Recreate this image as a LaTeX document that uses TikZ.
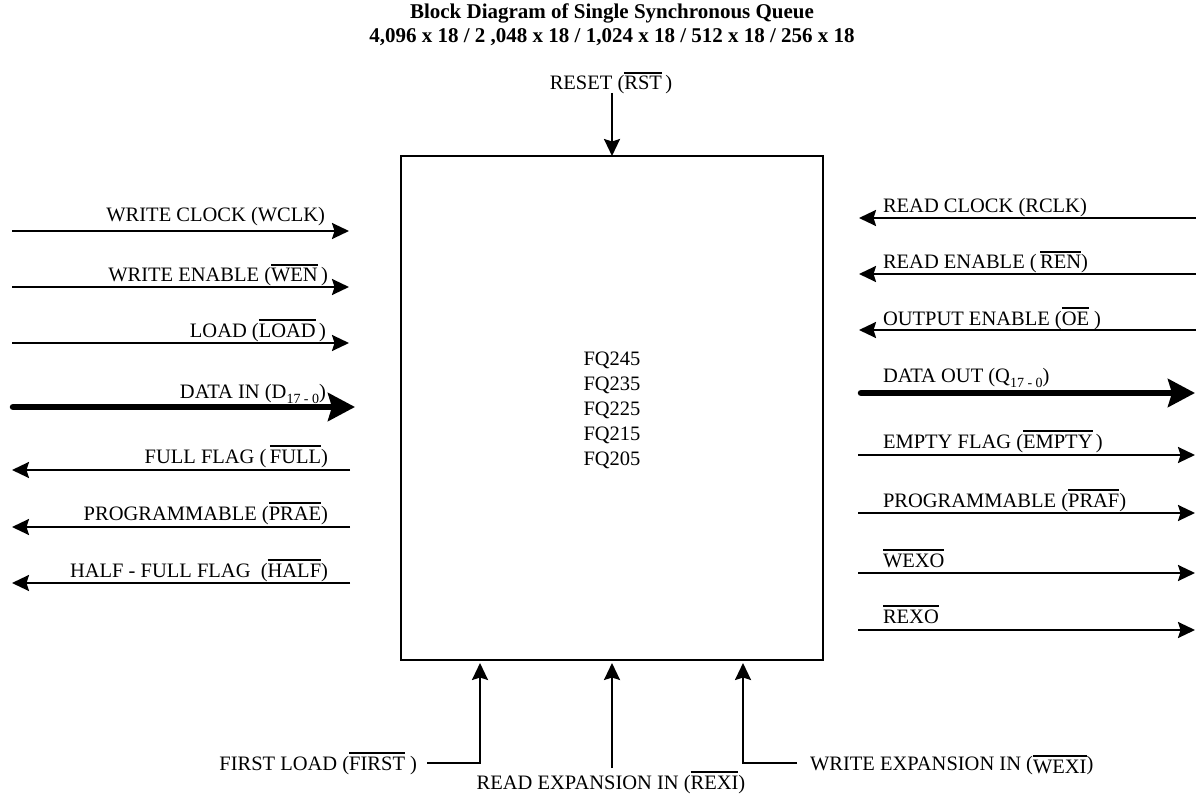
\documentclass[tikz,border=0pt]{standalone}
\usepackage{fontspec}
\setmainfont{Liberation Serif}
\usetikzlibrary{arrows.meta}
\newcommand\ovl[1]{\vbox{\hrule height 1.3pt\kern 2.8pt\hbox{#1}}}
\newcommand\sbs[1]{\raisebox{-5pt}{\fontsize{14}{14}\selectfont #1}}
\begin{document}
\begin{tikzpicture}[x=1pt,y=-1pt,
  font=\fontsize{20.5}{25}\selectfont,
  lab/.style={inner sep=0pt,outer sep=0pt},
  ttl/.style={inner sep=0pt,outer sep=0pt,font=\fontsize{21}{25}\selectfont\bfseries},
  sig/.style={line width=2.4pt,-{Stealth[length=17pt,width=16pt,inset=2.5pt]}},
  bus/.style={line width=6.5pt,line cap=round,-{Stealth[length=27pt,width=28pt,inset=4pt]}},
  blk/.style={draw,line width=2.4pt,inner sep=0pt,outer sep=0pt,minimum width=422pt,minimum height=504pt}]
\useasboundingbox (0,0) rectangle (1196,802);

% title
\node[ttl,anchor=base] (t1) at (612,19) {Block Diagram of Single Synchronous Queue};
\node[ttl,anchor=base] (t2) at (612,43) {4,096 x 18 / 2 ,048 x 18 / 1,024 x 18 / 512 x 18 / 256 x 18};

% block
\node[blk,anchor=north west] (box) at (401,156) {};
\node[lab,anchor=base] (fq1) at (612,365) {FQ245};
\node[lab,anchor=base] (fq2) at (612,390) {FQ235};
\node[lab,anchor=base] (fq3) at (612,415) {FQ225};
\node[lab,anchor=base] (fq4) at (612,440) {FQ215};
\node[lab,anchor=base] (fq5) at (612,465) {FQ205};

% reset
\node[lab,anchor=base] (rst) at (611,90) {RESET (\ovl{RST}\,)};
\coordinate (rstA) at (612,93);
\draw[sig] (rstA) -- (box.north);

% left inputs
\coordinate (wclkA) at (12,231); \coordinate (wclkB) at (349,231);
\draw[sig] (wclkA) -- (wclkB);
\node[lab,anchor=base east] (wclk) at (325,222) {WRITE CLOCK (WCLK)};

\coordinate (wenA) at (12,287); \coordinate (wenB) at (349,287);
\draw[sig] (wenA) -- (wenB);
\node[lab,anchor=base east] (wen) at (328,282) {WRITE ENABLE (\ovl{WEN}\,)};

\coordinate (ldA) at (12,343); \coordinate (ldB) at (349,343);
\draw[sig] (ldA) -- (ldB);
\node[lab,anchor=base east] (ld) at (326,337) {LOAD (\ovl{LOAD}\,)};

\coordinate (dinA) at (13,407); \coordinate (dinB) at (355,407);
\draw[bus] (dinA) -- (dinB);
\node[lab,anchor=base east] (din) at (326,398) {DATA IN (D\sbs{17 - 0})};

% left outputs
\coordinate (fulA) at (350,470); \coordinate (fulB) at (12,470);
\draw[sig] (fulA) -- (fulB);
\node[lab,anchor=base east] (ful) at (328,463) {FULL FLAG (\,\ovl{FULL})};

\coordinate (praeA) at (350,527); \coordinate (praeB) at (12,527);
\draw[sig] (praeA) -- (praeB);
\node[lab,anchor=base east] (prae) at (328,520) {PROGRAMMABLE (\ovl{PRAE})};

\coordinate (halfA) at (350,583); \coordinate (halfB) at (12,583);
\draw[sig] (halfA) -- (halfB);
\node[lab,anchor=base east] (half) at (328,577) {HALF - FULL FLAG \ (\ovl{HALF})};

% right inputs
\coordinate (rclkA) at (1196,218); \coordinate (rclkB) at (859,218);
\draw[sig] (rclkA) -- (rclkB);
\node[lab,anchor=base west] (rclk) at (883,213) {READ CLOCK (RCLK)};

\coordinate (renA) at (1196,274); \coordinate (renB) at (859,274);
\draw[sig] (renA) -- (renB);
\node[lab,anchor=base west] (ren) at (883,269) {READ ENABLE (\,\ovl{REN})};

\coordinate (oeA) at (1196,330); \coordinate (oeB) at (859,330);
\draw[sig] (oeA) -- (oeB);
\node[lab,anchor=base west] (oe) at (883,325) {OUTPUT ENABLE (\ovl{OE}\ )};

% right outputs
\coordinate (doutA) at (861,393); \coordinate (doutB) at (1195,393);
\draw[bus] (doutA) -- (doutB);
\node[lab,anchor=base west] (dout) at (883,382) {DATA OUT (Q\sbs{17 - 0})};

\coordinate (empA) at (858,455); \coordinate (empB) at (1195,455);
\draw[sig] (empA) -- (empB);
\node[lab,anchor=base west] (emp) at (883,448) {EMPTY FLAG (\ovl{EMPTY}\,)};

\coordinate (prafA) at (858,513); \coordinate (prafB) at (1195,513);
\draw[sig] (prafA) -- (prafB);
\node[lab,anchor=base west] (praf) at (883,507) {PROGRAMMABLE (\ovl{PRAF})};

\coordinate (wexoA) at (858,573); \coordinate (wexoB) at (1195,573);
\draw[sig] (wexoA) -- (wexoB);
\node[lab,anchor=base west] (wexo) at (883,567) {\ovl{WEXO}};

\coordinate (rexoA) at (858,630); \coordinate (rexoB) at (1195,630);
\draw[sig] (rexoA) -- (rexoB);
\node[lab,anchor=base west] (rexo) at (883,623) {\ovl{REXO}};

% bottom inputs
\coordinate (flA) at (427,763); \coordinate (flB) at (480,763); \coordinate (flC) at (480,663);
\draw[sig] (flA) -- (flB) -- (flC);
\node[lab,anchor=base east] (fl) at (417,770) {FIRST LOAD (\ovl{FIRST}\ )};

\coordinate (reA) at (612,768); \coordinate (reB) at (612,663);
\draw[sig] (reA) -- (reB);
\node[lab,anchor=base] (rexi) at (611,789) {READ EXPANSION IN (\ovl{REXI})};

\coordinate (weA) at (797,763); \coordinate (weB) at (743,763); \coordinate (weC) at (743,663);
\draw[sig] (weA) -- (weB) -- (weC);
\node[lab,anchor=base west] (wexi) at (810,770) {WRITE EXPANSION IN (\raisebox{-3pt}{\ovl{WEXI}})};
\end{tikzpicture}
\end{document}
